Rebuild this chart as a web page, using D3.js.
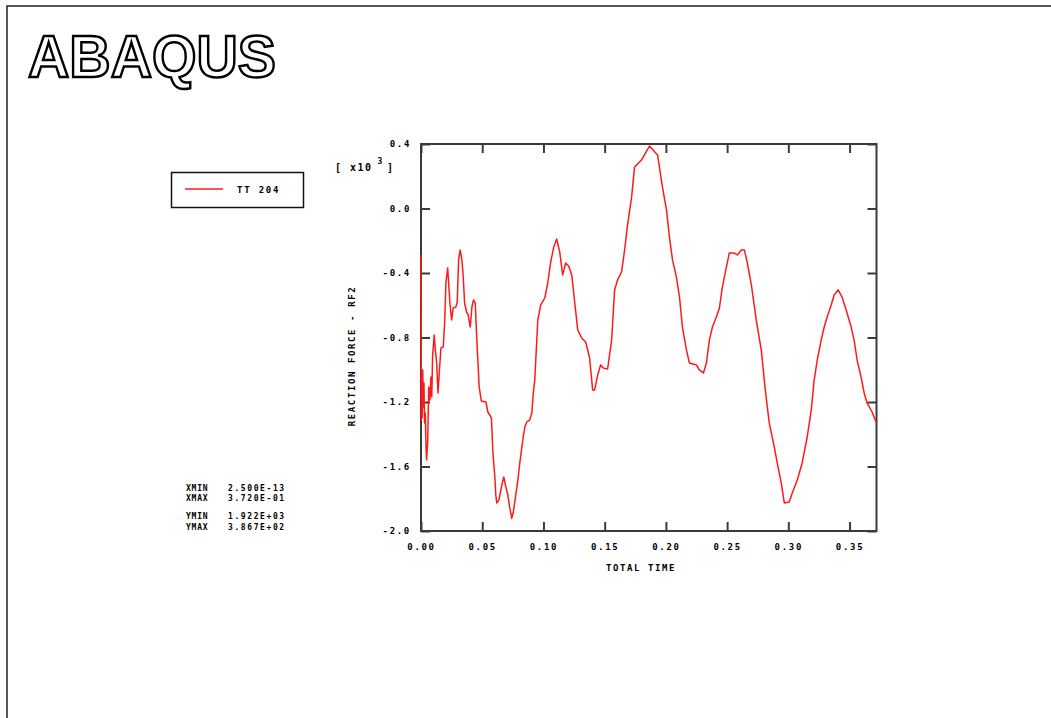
<!DOCTYPE html>
<html>
<head>
<meta charset="utf-8">
<script src="https://cdn.jsdelivr.net/npm/d3@7"></script>
<style>
  html, body { margin: 0; padding: 0; background: #fff; }
  svg { display: block; }
  .pix { font-family: "DejaVu Sans Mono", monospace; font-weight: bold; fill: #000; }
</style>
</head>
<body>
<svg id="chart" width="1051" height="718"></svg>
<script>
// Reaction force RF2 (x10^3) against total time
const time = [
  0, 0.0002, 0.0006, 0.0010, 0.0014, 0.0019, 0.0024, 0.0029, 0.0035, 0.0041,
  0.0046, 0.0055, 0.0063, 0.0073, 0.0081, 0.0088, 0.0095, 0.0108, 0.0117, 0.0128,
  0.0139, 0.0149, 0.0163, 0.0182, 0.0193, 0.0204, 0.0218, 0.0226, 0.0236, 0.0250,
  0.0263, 0.0285, 0.0296, 0.0307, 0.0320, 0.0334, 0.0345, 0.0356, 0.0372, 0.0385,
  0.0402, 0.0416, 0.0429, 0.0443, 0.0456, 0.0467, 0.0475, 0.0493, 0.0530, 0.0546,
  0.0575, 0.0587, 0.0603, 0.0611, 0.0619, 0.0636, 0.0660, 0.0676, 0.0693, 0.0709,
  0.0725, 0.0741, 0.0754, 0.0774, 0.0791, 0.0807, 0.0823, 0.0835, 0.0848, 0.0864,
  0.0888, 0.0905, 0.0917, 0.0929, 0.0954, 0.0978, 0.1011, 0.1035, 0.1059, 0.1084,
  0.1108, 0.1133, 0.1157, 0.1182, 0.1206, 0.1231, 0.1255, 0.1280, 0.1312, 0.1345,
  0.1377, 0.1402, 0.1418, 0.1443, 0.1467, 0.1491, 0.1524, 0.1557, 0.1581, 0.1605,
  0.1638, 0.1663, 0.1687, 0.1720, 0.1744, 0.1801, 0.1866, 0.1932, 0.1972, 0.2005,
  0.2029, 0.2054, 0.2086, 0.2111, 0.2135, 0.2168, 0.2192, 0.2250, 0.2274, 0.2307,
  0.2331, 0.2355, 0.2380, 0.2412, 0.2437, 0.2461, 0.2494, 0.2518, 0.2559, 0.2583,
  0.2616, 0.2641, 0.2665, 0.2698, 0.2738, 0.2779, 0.2812, 0.2844, 0.2885, 0.2909,
  0.2942, 0.2967, 0.3007, 0.3032, 0.3073, 0.3113, 0.3154, 0.3187, 0.3211, 0.3236,
  0.3268, 0.3293, 0.3317, 0.3350, 0.3374, 0.3407, 0.3439, 0.3472, 0.3513, 0.3537,
  0.3562, 0.3594, 0.3619, 0.3643, 0.3684, 0.3716
];
const rf2 = [
  -0.288, -1.312, -1.126, -1.299, -1.002, -1.231, -1.082, -1.330, -1.268, -1.479,
  -1.560, -1.436, -1.107, -1.188, -1.045, -1.169, -0.909, -0.784, -0.878, -0.958,
  -1.144, -1.020, -0.865, -0.859, -0.704, -0.456, -0.369, -0.462, -0.586, -0.691,
  -0.617, -0.611, -0.580, -0.319, -0.257, -0.319, -0.425, -0.586, -0.642, -0.660,
  -0.735, -0.611, -0.567, -0.586, -0.816, -0.983, -1.107, -1.194, -1.200, -1.262,
  -1.299, -1.510, -1.665, -1.777, -1.826, -1.808, -1.715, -1.665, -1.727, -1.777,
  -1.857, -1.922, -1.882, -1.777, -1.684, -1.578, -1.485, -1.417, -1.355, -1.324,
  -1.312, -1.268, -1.144, -1.064, -0.691, -0.598, -0.555, -0.462, -0.332, -0.239,
  -0.189, -0.270, -0.412, -0.338, -0.357, -0.412, -0.580, -0.753, -0.803, -0.828,
  -0.927, -1.126, -1.126, -1.033, -0.971, -0.990, -0.995, -0.816, -0.505, -0.443,
  -0.394, -0.257, -0.102, 0.071, 0.257, 0.301, 0.387, 0.332, 0.133, -0.009,
  -0.177, -0.319, -0.425, -0.549, -0.735, -0.878, -0.958, -0.971, -1.002, -1.020,
  -0.958, -0.816, -0.735, -0.673, -0.617, -0.487, -0.363, -0.276, -0.276, -0.288,
  -0.257, -0.257, -0.338, -0.474, -0.691, -0.878, -1.126, -1.330, -1.479, -1.578,
  -1.702, -1.826, -1.820, -1.764, -1.684, -1.578, -1.417, -1.250, -1.064, -0.940,
  -0.816, -0.735, -0.673, -0.598, -0.536, -0.505, -0.549, -0.629, -0.735, -0.816,
  -0.940, -1.045, -1.144, -1.206, -1.262, -1.324
];

const xTicks = [0, 0.05, 0.10, 0.15, 0.20, 0.25, 0.30, 0.35];
const yTicks = [0.4, 0.0, -0.4, -0.8, -1.2, -1.6, -2.0];
const xDomain = [0, 0.372];
const yDomain = [-2.0, 0.4];

const seriesName = 'TT 204';
const xTitle = 'TOTAL TIME';
const yTitle = 'REACTION FORCE - RF2';
const statNames = ['XMIN', 'XMAX', 'YMIN', 'YMAX'];
const statValues = ['2.500E-13', '3.720E-01', '1.922E+03', '3.867E+02'];

const svg = d3.select('#chart');

// page frame
svg.append('rect')
  .attr('x', 7).attr('y', 6).attr('width', 1200).attr('height', 900)
  .attr('fill', 'none').attr('stroke', '#222').attr('stroke-width', 1.5);

// outlined logo
svg.append('text')
  .attr('x', 28).attr('y', 77)
  .attr('textLength', 248).attr('lengthAdjust', 'spacingAndGlyphs')
  .style('font-family', '"Liberation Sans", Arial, sans-serif')
  .style('font-weight', 'bold').style('font-size', '59px')
  .attr('fill', '#fff').attr('stroke', '#000').attr('stroke-width', 2.5)
  .text('ABAQUS');

const plot = { left: 421, top: 144, right: 876.5, bottom: 531 };
const x = d3.scaleLinear().domain(xDomain).range([plot.left, plot.right]);
const y = d3.scaleLinear().domain(yDomain).range([plot.bottom, plot.top]);

const axisColor = '#3a3a3a';

function styleAxis(g, labels) {
  g.select('.domain').remove();
  g.selectAll('.tick line').attr('stroke', axisColor).attr('stroke-width', 2);
  g.selectAll('.tick text')
    .attr('class', 'pix')
    .style('font-size', '9px')
    .style('letter-spacing', '1.7px')
    .attr('fill', '#000');
  if (!labels) g.selectAll('.tick text').remove();
}

svg.append('g')
  .attr('transform', `translate(0,${plot.bottom})`)
  .call(d3.axisBottom(x).tickValues(xTicks).tickSize(-9).tickPadding(13)
    .tickFormat(d => d.toFixed(2)))
  .call(g => styleAxis(g, true));

svg.append('g')
  .attr('transform', `translate(0,${plot.top})`)
  .call(d3.axisTop(x).tickValues(xTicks).tickSize(-9))
  .call(g => styleAxis(g, false));

svg.append('g')
  .attr('transform', `translate(${plot.left},0)`)
  .call(d3.axisLeft(y).tickValues(yTicks).tickSize(-9).tickPadding(10)
    .tickFormat(d => d.toFixed(1)))
  .call(g => styleAxis(g, true));

svg.append('g')
  .attr('transform', `translate(${plot.right},0)`)
  .call(d3.axisRight(y).tickValues(yTicks).tickSize(-9))
  .call(g => styleAxis(g, false));

// frame of the plot
svg.append('rect')
  .attr('x', plot.left).attr('y', plot.top)
  .attr('width', plot.right - plot.left).attr('height', plot.bottom - plot.top)
  .attr('fill', 'none').attr('stroke', axisColor).attr('stroke-width', 2);

// curve
const line = d3.line()
  .x((d, i) => x(time[i]))
  .y(d => y(d));

svg.append('path')
  .datum(rf2)
  .attr('d', line)
  .attr('fill', 'none')
  .attr('stroke', '#ff1a1a')
  .attr('stroke-width', 1.5)
  .attr('stroke-linejoin', 'round');

// axis titles
svg.append('text')
  .attr('class', 'pix')
  .attr('x', 641).attr('y', 571)
  .attr('text-anchor', 'middle')
  .style('font-size', '9px').style('letter-spacing', '1.6px')
  .text(xTitle);

svg.append('text')
  .attr('class', 'pix')
  .attr('transform', 'translate(355,356) rotate(-90)')
  .attr('text-anchor', 'middle')
  .style('font-size', '9px').style('letter-spacing', '1.6px')
  .text(yTitle);

// multiplier
const mult = svg.append('text')
  .attr('class', 'pix')
  .attr('x', 335).attr('y', 171)
  .style('font-size', '10px').style('letter-spacing', '1.5px');
mult.append('tspan').text('[ x10');
mult.append('tspan').attr('dx', 5).attr('dy', -7).style('font-size', '8px').text('3');
mult.append('tspan').attr('dx', 3).attr('dy', 7).text(']');

// legend
svg.append('rect')
  .attr('x', 171.5).attr('y', 172.5).attr('width', 132).attr('height', 35)
  .attr('fill', 'none').attr('stroke', '#111').attr('stroke-width', 1.5);
svg.append('line')
  .attr('x1', 185).attr('x2', 223).attr('y1', 189).attr('y2', 189)
  .attr('stroke', '#ff1a1a').attr('stroke-width', 1.5);
svg.append('text')
  .attr('class', 'pix')
  .attr('x', 237).attr('y', 193)
  .style('font-size', '9px').style('letter-spacing', '1.8px')
  .text(seriesName);

// min / max block
const statY = [491, 501, 519, 530];
statNames.forEach((name, i) => {
  svg.append('text')
    .attr('class', 'pix')
    .attr('x', 186).attr('y', statY[i])
    .style('font-size', '8px').style('letter-spacing', '0.8px')
    .text(name);
  svg.append('text')
    .attr('class', 'pix')
    .attr('x', 228).attr('y', statY[i])
    .style('font-size', '8px').style('letter-spacing', '1.6px')
    .text(statValues[i]);
});
</script>
</body>
</html>
